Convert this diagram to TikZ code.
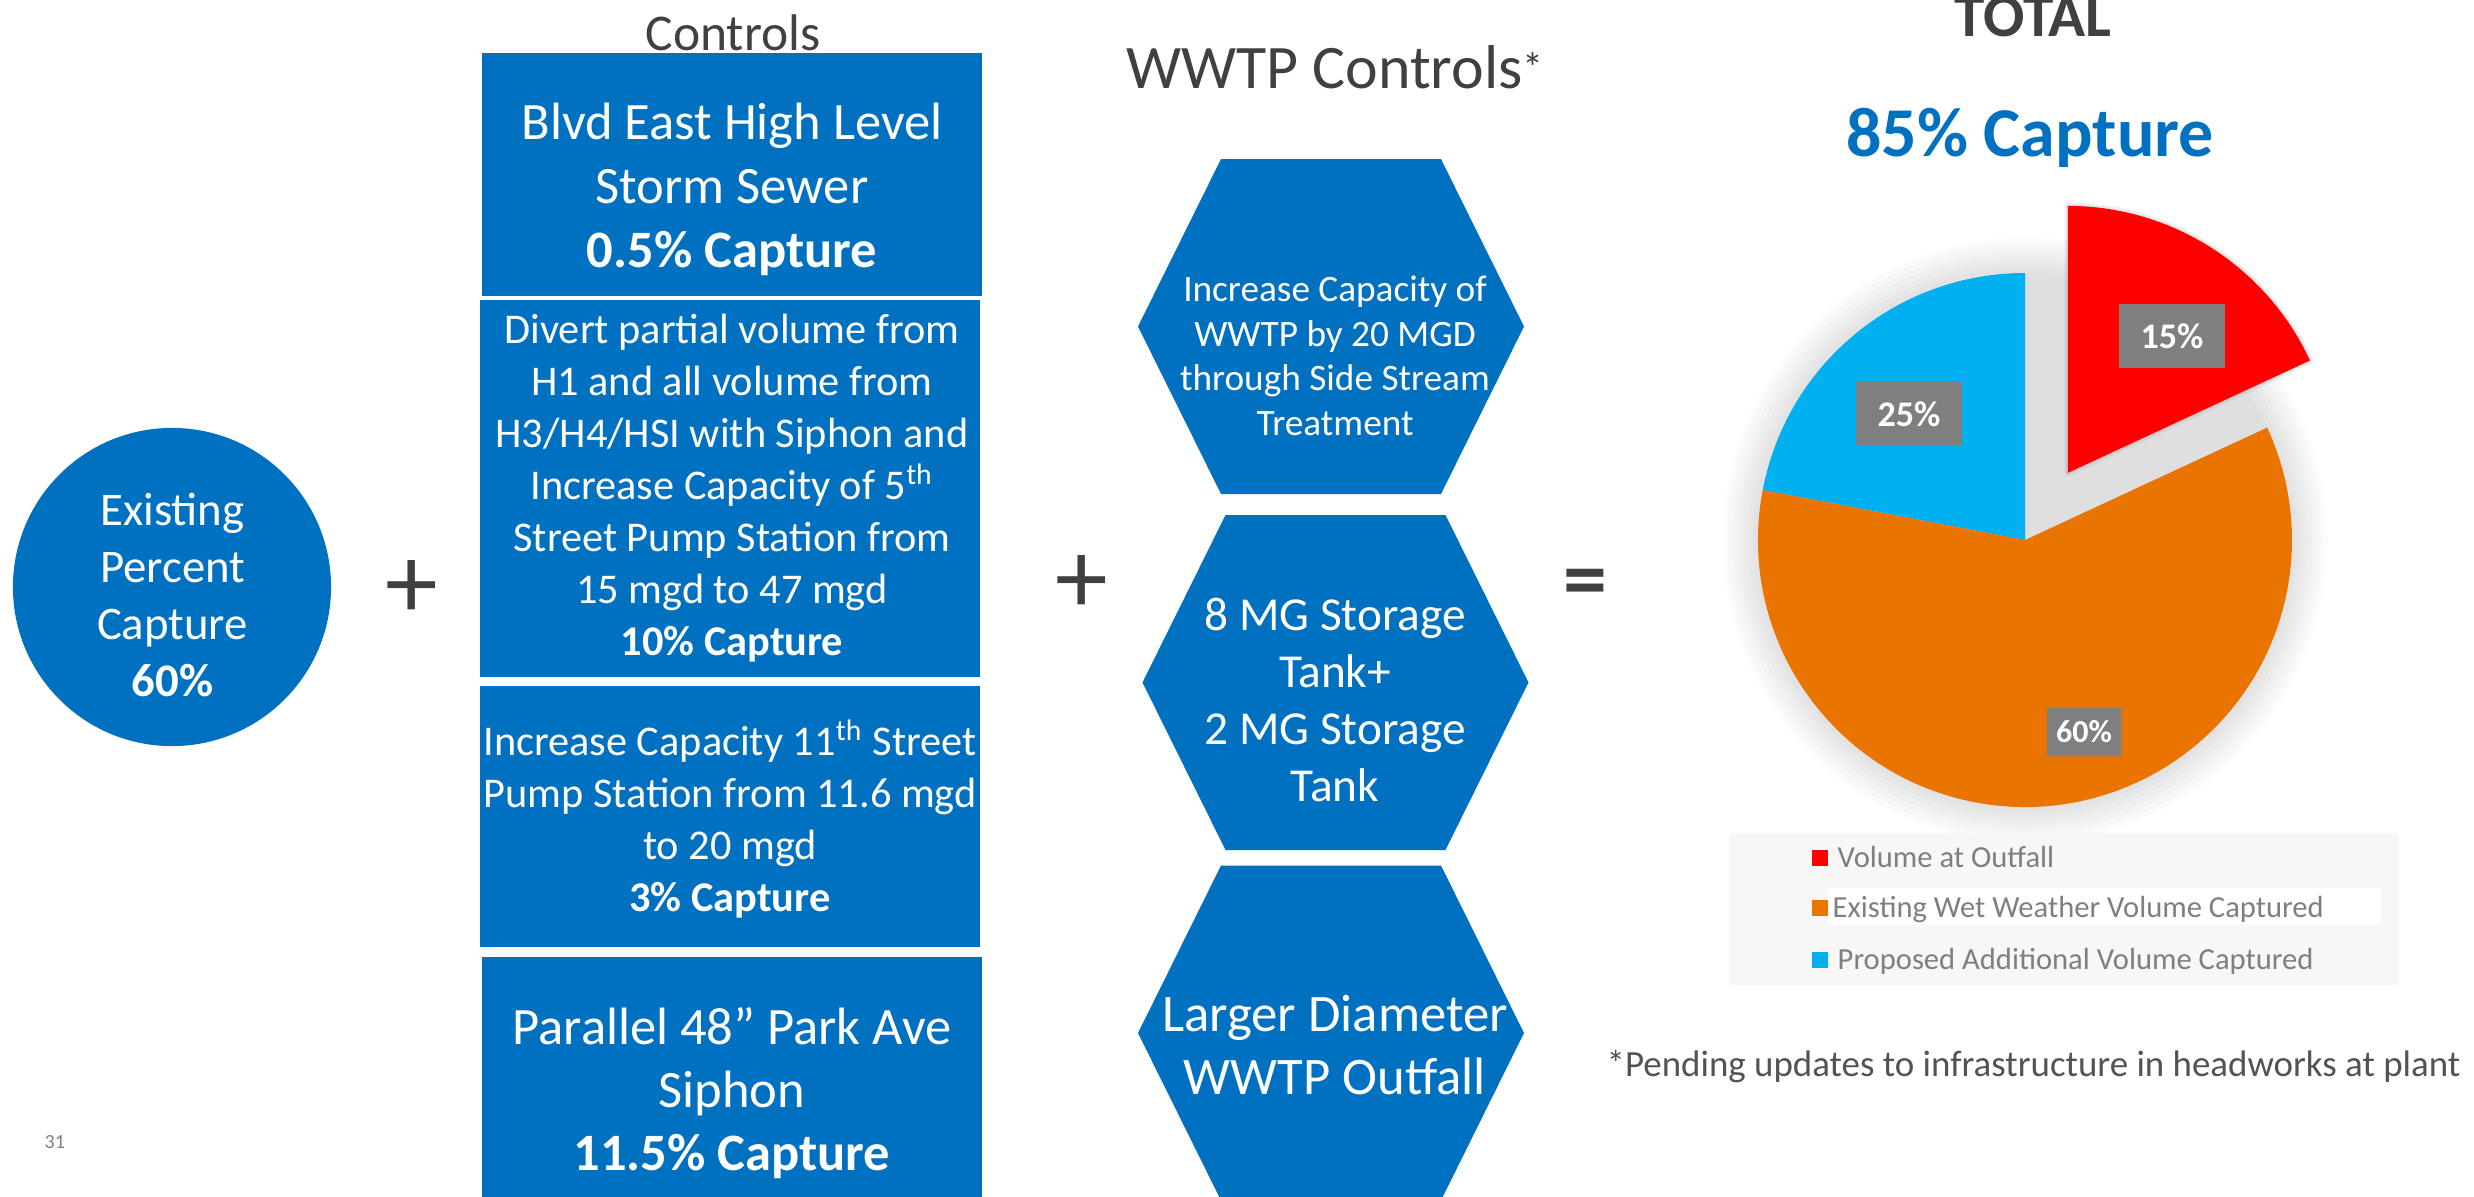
\documentclass[tikz,border=0pt]{standalone}
\usepackage{fontspec}
\setmainfont{Carlito}
\usepackage{tikz}
\usetikzlibrary{positioning,shadows}
\definecolor{ctrlblue}{HTML}{0070C0}
\definecolor{darktext}{HTML}{404040}
\definecolor{legtext}{HTML}{7F7F7F}
\definecolor{slicered}{HTML}{FF0000}
\definecolor{sliceorange}{HTML}{E97500}
\definecolor{sliceblue}{HTML}{00B0F0}
\definecolor{taggray}{HTML}{7F7F7F}
\newcommand{\fs}[2]{\fontsize{#1}{#2}\selectfont}

\begin{document}
\begin{tikzpicture}[x=0.01cm, y=-0.01cm,
  ctrlbox/.style={fill=ctrlblue, minimum width=5cm, inner sep=0pt},
  whitetxt/.style={text=white, align=center, inner sep=0pt},
  hexshape/.pic={\fill[ctrlblue] (-193,0) -- (-110,-167.5) -- (110,-167.5) -- (193,0) -- (110,167.5) -- (-110,167.5) -- cycle;},
  tag/.style={fill=taggray, text=white, inner sep=0pt},
  legsq/.style={minimum width=0.16cm, minimum height=0.16cm, inner sep=0pt},
  legtxt/.style={text=legtext, anchor=base west, inner sep=0pt, font=\fs{8.7}{10}},
  sign/.style={text=darktext, inner sep=0pt}
]
\useasboundingbox (0,0) rectangle (2474,1196);
\clip (0,0) rectangle (2474,1196);

\node[circle, fill=ctrlblue, minimum size=3.18cm, inner sep=0pt] (exist) at (172,587) {};
\node[whitetxt, font=\fs{13.3}{16.2}] (existtxt) at (172.5,595) {Existing\\Percent\\Capture\\\textbf{60\%}};
\node[sign, font=\fs{30}{30}] (plusa) at (412,589) {+};

\node[text=darktext, font=\fs{14.65}{17}, anchor=base] (ctrltitle) at (733,50) {Controls};
\node[ctrlbox, minimum height=2.43cm] (blvd) at (732,174.5) {};
\node[ctrlbox, minimum height=3.77cm] (divert) at (730,488.5) {};
\node[ctrlbox, minimum height=2.61cm] (eleventh) at (730,816.5) {};
\node[ctrlbox, minimum height=2.6cm, anchor=north] (parkave) at (732,956) {};
\node[whitetxt, font=\fs{14.94}{18.2}] (blvdtxt) at (732,189) {Blvd East High Level\\Storm Sewer\\\textbf{0.5\% Capture}};
\node[whitetxt, font=\fs{12.04}{14.8}] (diverttxt) at (732,488) {Divert partial volume from\\H1 and all volume from\\H3/H4/HSI with Siphon and\\Increase Capacity of 5\textsuperscript{th}\\Street Pump Station from\\15 mgd to 47 mgd\\\textbf{10\% Capture}};
\node[whitetxt, font=\fs{12.04}{14.8}] (eleventhtxt) at (730,819) {Increase Capacity 11\textsuperscript{th} Street\\Pump Station from 11.6 mgd\\to 20 mgd\\\textbf{3\% Capture}};
\node[whitetxt, font=\fs{14.94}{17.9}] (parkavetxt) at (732,1093) {Parallel 48” Park Ave\\Siphon\\\textbf{11.5\% Capture}};

\node[sign, font=\fs{30}{30}] (plusb) at (1082,584) {+};
\node[text=darktext, font=\fs{17.6}{20}, anchor=base] (wwtptitle) at (1335,88) {WWTP Controls\raisebox{1.5pt}{\fs{12}{12}*}};
\pic at (1331,326.5) {hexshape};
\pic at (1335.5,682.5) {hexshape};
\pic at (1331,1033) {hexshape};
\node[whitetxt, font=\fs{10.6}{12.66}] (sidetxt) at (1335,356) {Increase Capacity of\\WWTP by 20 MGD\\through Side Stream\\Treatment};
\node[whitetxt, font=\fs{13.45}{16.2}] (tanktxt) at (1335,700) {8 MG Storage\\Tank+\\2 MG Storage\\Tank};
\node[whitetxt, font=\fs{15}{17.9}] (outfalltxt) at (1335,1045) {Larger Diameter\\WWTP Outfall};
\node[sign, font=\bfseries\fs{25}{25}] (equal) at (1585.5,589) {=};

\node[text=darktext, font=\bfseries\fs{17.4}{20}, anchor=base] (total) at (2033,36) {TOTAL};
\node[text=ctrlblue, font=\bfseries\fs{19.9}{24}, anchor=base] (capture) at (2030,156) {85\% Capture};

\coordinate (pie) at (2025,540);
\begin{scope}[shift={(pie)}, x=0.01cm, y=0.01cm]
  \foreach \g in {0,...,7}
    \fill[black, opacity=0.015] (0,0) circle (267+\g*5);
  \begin{scope}[shift={(42.8,67.1)}]
    \foreach \g in {2,4,...,16}
      \draw[black, opacity=0.015, line width=\g*0.05mm, line join=round] (0,0) -- (24.9:267) arc[start angle=24.9, end angle=90, radius=267] -- cycle;
    \fill[slicered] (0,0) -- (24.9:267) arc[start angle=24.9, end angle=90, radius=267] -- cycle;
  \end{scope}
  \fill[sliceblue] (0,0) -- (90:267) arc[start angle=90, end angle=169.2, radius=267] -- cycle;
  \fill[sliceorange] (0,0) -- (169.2:267) arc[start angle=169.2, end angle=384.9, radius=267] -- cycle;
\end{scope}
\node[tag, minimum width=1.05cm, minimum height=0.64cm, font=\bfseries\fs{10.25}{12}] (redtag) at (2172,336) {15\%};
\node[tag, minimum width=1.05cm, minimum height=0.64cm, font=\bfseries\fs{10.25}{12}] (bluetag) at (1909,414) {25\%};
\node[tag, minimum width=0.74cm, minimum height=0.48cm, font=\bfseries\fs{9.1}{11}, drop shadow={opacity=0.35, shadow xshift=0.6pt, shadow yshift=-0.6pt}] (orangetag) at (2084,732) {60\%};

\node[fill=black!3, minimum width=6.7cm, minimum height=1.52cm, inner sep=0pt] (legend) at (2064,909) {};
\node[fill=white, minimum width=5.53cm, minimum height=0.37cm, inner sep=0pt] (leghigh) at (2104.5,906.5) {};
\node[legsq, fill=slicered] (sqred) at (1819.5,857.5) {};
\node[legsq, fill=sliceorange] (sqorange) at (1819.5,908) {};
\node[legsq, fill=sliceblue] (sqblue) at (1819.5,959.5) {};
\node[legtxt] (legred) at (1837,867.5) {Volume at Outfall};
\node[legtxt] (legorange) at (1832,917.5) {Existing Wet Weather Volume Captured};
\node[legtxt] (legblue) at (1837,969.5) {Proposed Additional Volume Captured};

\node[text=darktext!90, anchor=base west, inner sep=0pt, font=\fs{10.5}{12}] (pending) at (1606,1076) {*Pending updates to infrastructure in headworks at plant};
\node[text=legtext, anchor=base west, inner sep=0pt, font=\fs{5.7}{7}] (pagenum) at (44,1148) {31};
\end{tikzpicture}
\end{document}
